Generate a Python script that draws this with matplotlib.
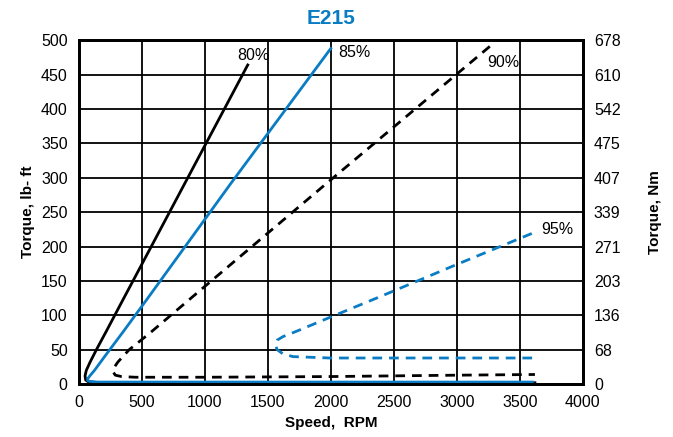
import matplotlib
matplotlib.use('Agg')
import matplotlib.pyplot as plt

plt.rcParams['font.family'] = ['Liberation Sans Narrow', 'Liberation Sans', 'DejaVu Sans']

blue = '#0a7cc4'

# 80% efficiency (black solid)
rpm_80 = [1341, 900, 500, 349, 222, 140, 90, 60, 50, 55, 75, 130, 600, 1500, 2500, 3620]
tq_80 = [464, 312, 174, 122, 78, 50, 32, 20, 12, 6, 3.5, 2.5, 2, 2, 2, 2]

# 85% efficiency (blue solid)
rpm_85 = [2000, 1200, 536, 360, 205, 125, 88, 72, 70, 85, 150, 1000, 2500, 3600]
tq_85 = [488, 290, 122, 78, 40, 20, 12, 8, 5.5, 4, 3, 3, 3, 3]

# 90% efficiency (black dashed)
rpm_90 = [3262, 2000, 1000, 563, 400, 310, 280, 272, 290, 340, 450, 1000, 2000, 3000, 3620]
tq_90 = [491, 297, 142, 74, 50, 32, 24, 18, 13, 11, 10, 10, 11, 13, 14]

# 95% efficiency (blue dashed)
rpm_95 = [3595, 3000, 2389, 1992, 1730, 1620, 1575, 1560, 1575, 1620, 1700, 1992, 2800, 3620]
tq_95 = [219, 174, 127, 97, 77, 69, 64, 57, 50, 44, 40, 38, 38, 38]

labels = ['80%', '85%', '90%', '95%']
label_rpm = [1254, 2063, 3238, 3667]
label_tq = [478, 482, 468, 225]

yticks = [0, 50, 100, 150, 200, 250, 300, 350, 400, 450, 500]
nm_labels = ['0', '68', '136', '203', '271', '339', '407', '475', '542', '610', '678']
xticks = [0, 500, 1000, 1500, 2000, 2500, 3000, 3500, 4000]

fig = plt.figure(figsize=(6.73, 4.37), dpi=100)
ax = fig.add_axes([0.117, 0.121, 0.749, 0.787])

ax.plot(rpm_80, tq_80, color='black', lw=2)
ax.plot(rpm_85, tq_85, color=blue, lw=2)
ax.plot(rpm_90, tq_90, color='black', lw=2, dashes=(3.5, 2.5))
ax.plot(rpm_95, tq_95, color=blue, lw=2, dashes=(3.5, 2.5))

for lab, x, y in zip(labels, label_rpm, label_tq):
    ax.text(x, y, lab, fontsize=11.5, ha='left', va='center')

ax.set_xlim(0, 4000)
ax.set_ylim(0, 500)
ax.set_xticks(xticks)
ax.set_yticks(yticks)
ax.grid(True, color='black', lw=1.3)
ax.tick_params(length=0, labelsize=11.5, pad=8)
for s in ax.spines.values():
    s.set_linewidth(2)

ax2 = ax.twinx()
ax2.set_ylim(0, 500)
ax2.set_yticks(yticks)
ax2.set_yticklabels(nm_labels)
ax2.tick_params(length=0, labelsize=11.5, pad=8)
for s in ax2.spines.values():
    s.set_linewidth(2)

ax.set_xlabel('Speed,  RPM', fontsize=11, fontweight='bold', labelpad=4)
ax.set_ylabel('Torque, lb- ft', fontsize=11, fontweight='bold', labelpad=4)
ax2.set_ylabel('Torque, Nm', fontsize=11, fontweight='bold', labelpad=20)
ax.set_title('E215', fontsize=15, fontweight='bold', color=blue, pad=12)

fig.savefig('out.png', dpi=100)
